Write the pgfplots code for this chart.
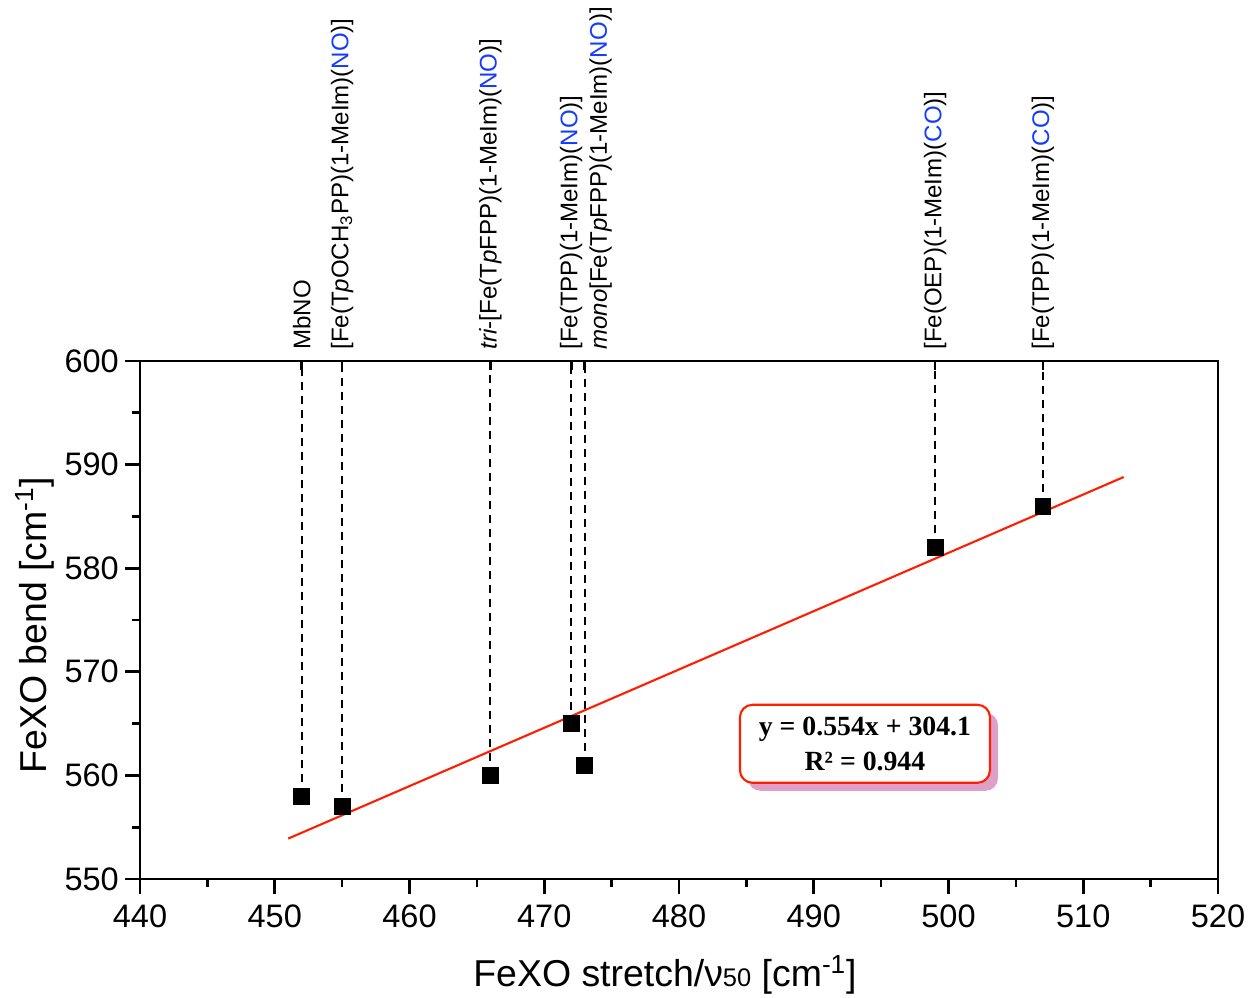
\documentclass[border=0pt]{standalone}
\usepackage{pgfplots}
\pgfplotsset{compat=1.18}
\usepackage{fontspec}
\setmainfont{Liberation Sans}
\newfontfamily\timesfont{Liberation Serif}
\usetikzlibrary{shadows}
\definecolor{noblue}{RGB}{20,60,255}
\definecolor{fitred}{RGB}{255,30,0}
\definecolor{shadowpink}{RGB}{222,160,200}
\newcommand{\NO}{\textcolor{noblue}{NO}}
\newcommand{\CO}{\textcolor{noblue}{CO}}
\begin{document}
\begin{tikzpicture}
\begin{axis}[name=main, at={(0,0)}, anchor=south west, scale only axis,
  width=21.56cm, height=10.36cm,
  xmin=440, xmax=520, ymin=550, ymax=600,
  xtick={440,450,...,520}, ytick={550,560,...,600},
  minor x tick num=1, minor y tick num=1,
  xtick pos=bottom, ytick pos=left, tick align=outside,
  major tick length=0.3cm, minor tick length=0.16cm,
  axis line style={line width=1.5pt},
  every tick/.style={line width=1.5pt, black},
  /pgf/number format/assume math mode=true,
  /pgf/number format/1000 sep={},
  ticklabel style={font=\fontsize{18.5}{22}\selectfont},
  xticklabel style={yshift=-0.1cm},
  label style={font=\fontsize{21.3}{25}\selectfont},
  xlabel={FeXO stretch/ν{\fontsize{14.5}{16}\selectfont 50} [cm\textsuperscript{-1}]},
  ylabel={FeXO bend [cm\textsuperscript{-1}]},
  xlabel style={at={(axis description cs:0.487,-0.1853)}, anchor=center},
  ylabel style={at={(axis description cs:-0.0974,0.49)}, anchor=center},
  clip=false]

% dashed drop lines
\addplot[black, line width=1.1pt, dash pattern=on 0.16cm off 0.12cm] coordinates {(452,558) (452,600)};
\addplot[black, line width=1.1pt, dash pattern=on 0.16cm off 0.12cm] coordinates {(455,557) (455,600)};
\addplot[black, line width=1.1pt, dash pattern=on 0.16cm off 0.12cm] coordinates {(466,560) (466,600)};
\addplot[black, line width=1.1pt, dash pattern=on 0.16cm off 0.12cm] coordinates {(472,565) (472,600)};
\addplot[black, line width=1.1pt, dash pattern=on 0.16cm off 0.12cm] coordinates {(473,561) (473,600)};
\addplot[black, line width=1.1pt, dash pattern=on 0.16cm off 0.12cm] coordinates {(499,582) (499,600)};
\addplot[black, line width=1.1pt, dash pattern=on 0.16cm off 0.12cm] coordinates {(507,586) (507,600)};

% data points
\addplot[only marks, mark=square*, mark size=4.5pt, black] coordinates {
  (452,558) (455,557) (466,560) (472,565) (473,561) (499,582) (507,586)};

% linear fit y = 0.554x + 304.1
\addplot[fitred, line width=1.2pt] coordinates {(451,553.9) (513,588.8)};

% labels
\begin{scope}[every node/.style={rotate=90, anchor=west, inner sep=0pt, font=\fontsize{13.7}{16}\selectfont}]
\node at ([yshift=0.22cm]axis cs:452,600) {MbNO};
\node at ([yshift=0.22cm]axis cs:455,600) {[Fe(T\textit{p}OCH\textsubscript{3}PP)(1-MeIm)(\NO)]};
\node at ([yshift=0.22cm]axis cs:466,600) {\textit{tri}-[Fe(T\textit{p}FPP)(1-MeIm)(\NO)]};
\node at ([yshift=0.22cm]axis cs:472,600) {[Fe(TPP)(1-MeIm)(\NO)]};
\node at ([xshift=0.32cm,yshift=0.22cm]axis cs:473,600) {\textit{mono}[Fe(T\textit{p}FPP)(1-MeIm)(\NO)]};
\node at ([yshift=0.22cm]axis cs:499,600) {[Fe(OEP)(1-MeIm)(\CO)]};
\node at ([yshift=0.22cm]axis cs:507,600) {[Fe(TPP)(1-MeIm)(\CO)]};
\end{scope}

% equation box
\node[draw=fitred, line width=1.2pt, rounded corners=0.25cm, fill=white,
  drop shadow={shadow xshift=0.16cm, shadow yshift=-0.16cm, fill=shadowpink, opacity=1},
  minimum width=5cm, minimum height=1.56cm, align=center,
  font={\timesfont\bfseries\fontsize{15.8}{20}\selectfont}]
  at (axis cs:493.8,563.05) {y = 0.554x + 304.1\\R² = 0.944};
\end{axis}

% top axis: ticks at data positions
\begin{axis}[at={(0,0)}, anchor=south west, scale only axis,
  width=21.56cm, height=10.36cm,
  xmin=440, xmax=520, ymin=550, ymax=600,
  axis x line*=top, axis y line=none,
  xtick={452,455,466,472,473,499,507}, xticklabels={},
  tick align=inside, major tick length=0.18cm,
  axis line style={line width=1.5pt},
  every tick/.style={line width=1.5pt, black}]
\addplot[draw=none] coordinates {(440,550)};
\end{axis}

\pgfresetboundingbox
\path[use as bounding box] ([shift={(-2.8cm,-2.38cm)}]main.south west) rectangle ([shift={(0.64cm,7.22cm)}]main.north east);
\end{tikzpicture}
\end{document}
